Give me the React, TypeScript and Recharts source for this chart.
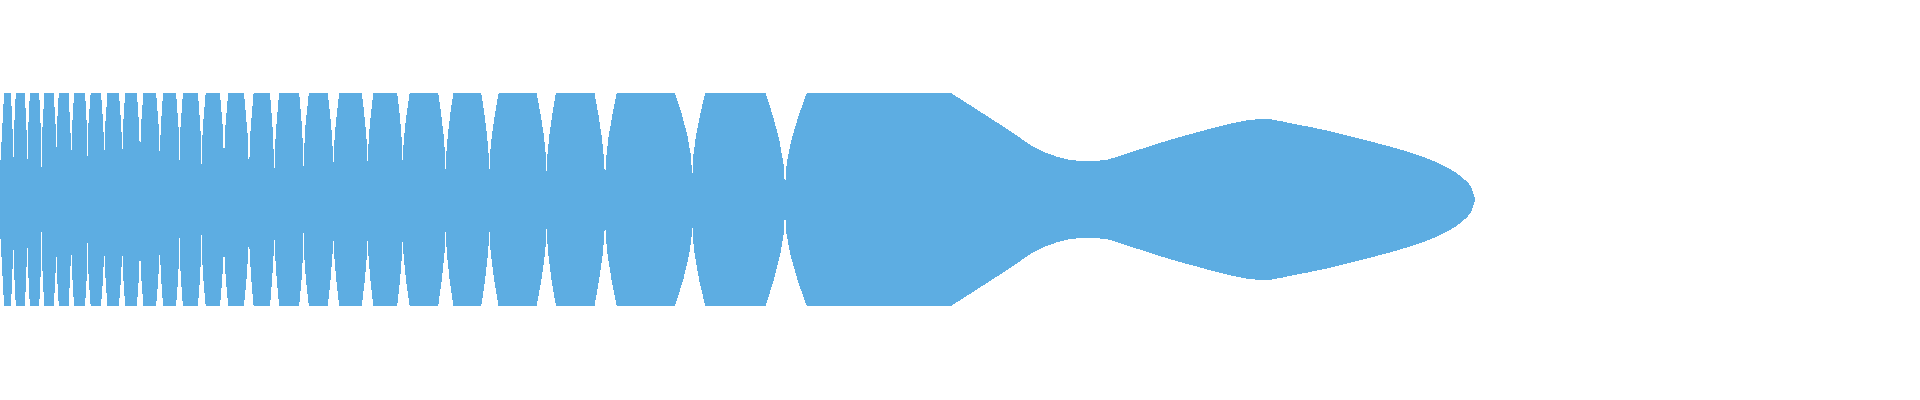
import React from 'react';
import { ComposedChart, Area, XAxis, YAxis } from 'recharts';

const FILL = '#5DADE2';

// Oscillating section: alternating neck / crest samples (crests exceed the visible range and get clipped)
const waveT = [0, 0.69, 1.33, 2.05, 2.73, 3.47, 4.15, 4.87, 5.63, 6.39, 7.12, 7.95, 8.75, 9.59, 10.43, 11.3, 12.23, 13.09, 14.0, 14.97, 15.98, 16.95, 17.95, 19.05, 20.15, 21.29, 22.4, 23.62, 24.9, 26.22, 27.43, 28.9, 30.35, 31.85, 33.33, 35.03, 36.77, 38.53, 40.27, 42.43, 44.57, 46.7, 48.93, 51.7, 54.67, 57.5, 60.5, 63.9, 69.23, 73.2, 78.5, 84.58, 87.0];
const waveV = [0.287, 2.0, 0.3, 2.06, 0.28, 2.09, 0.306, 1.92, 0.405, 1.96, 0.334, 2.02, 0.408, 1.82, 0.395, 1.88, 0.395, 1.96, 0.385, 1.92, 0.37, 1.98, 0.363, 2.08, 0.334, 1.95, 0.344, 2.0, 0.255, 2.13, 0.24, 2.22, 0.31, 2.03, 0.27, 2.1, 0.29, 2.17, 0.3, 2.15, 0.234, 2.13, 0.23, 2.21, 0.22, 2.26, 0.16, 2.28, 0.213, 2.27, 0.12, 2.3, 1.5];

// Smooth tail section
const tailT = [84.0, 95.1, 99.0, 101.3, 103.3, 105.67, 107.8, 109.8, 113.3, 116.67, 120.0, 123.3, 126.33, 129.33, 132.67, 136.0, 139.33, 142.67, 144.33, 145.67, 146.67, 147.17, 147.4, 147.53];
const tailV = [1.6, 1.0, 0.765, 0.626, 0.497, 0.403, 0.364, 0.364, 0.45, 0.551, 0.638, 0.718, 0.758, 0.711, 0.648, 0.57, 0.488, 0.388, 0.318, 0.247, 0.168, 0.105, 0.042, 0];

const waveData = waveT.map((t, i) => ({ t, band: [-waveV[i], waveV[i]] }));
const tailData = tailT.map((t, i) => ({ t, band: [-tailV[i], tailV[i]] }));

export default function App() {
  return (
    <div style={{ position: 'absolute', left: 0, top: 0, width: 1920, height: 400, shapeRendering: 'crispEdges' }}>
      <ComposedChart width={1920} height={400} margin={{ top: 93, right: 0, bottom: 94, left: 0 }}>
        <XAxis type="number" dataKey="t" domain={[0, 192]} hide allowDataOverflow />
        <YAxis type="number" domain={[-1, 1]} hide allowDataOverflow />
        <Area
          data={waveData}
          dataKey="band"
          type="monotoneY"
          stroke="none"
          fill={FILL}
          fillOpacity={1}
          isAnimationActive={false}
          dot={false}
          activeDot={false}
        />
        <Area
          data={tailData}
          dataKey="band"
          type="monotone"
          stroke="none"
          fill={FILL}
          fillOpacity={1}
          isAnimationActive={false}
          dot={false}
          activeDot={false}
        />
      </ComposedChart>
    </div>
  );
}
